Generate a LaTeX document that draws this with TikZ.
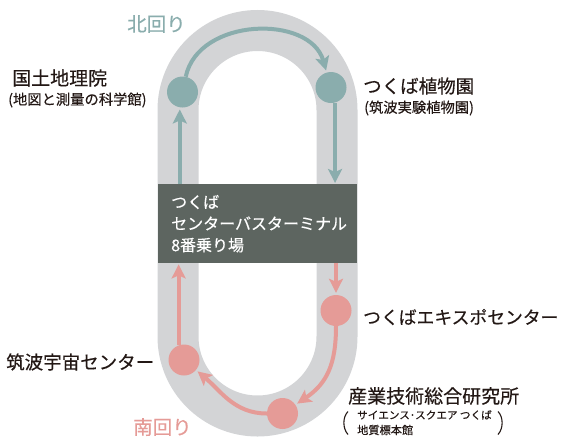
\documentclass[tikz,border=0pt]{standalone}
\usepackage{fontspec}
\setmainfont{Noto Sans CJK JP}[FakeBold=0.35]
\usetikzlibrary{arrows.meta,calc}
\definecolor{trackgrey}{HTML}{D3D4D6}
\definecolor{tealline}{HTML}{8AADAD}
\definecolor{pinkline}{HTML}{E59B97}
\definecolor{boxgrey}{HTML}{5D6560}
\definecolor{inkcol}{HTML}{231815}
\begin{document}
\begin{tikzpicture}[x=1pt,y=1pt,
  stopdot/.style={circle, minimum size=31pt, inner sep=0pt},
  tealstop/.style={stopdot, fill=tealline},
  pinkstop/.style={stopdot, fill=pinkline},
  route/.style={line width=4pt, -{Stealth[length=14pt,width=14pt,inset=3pt]}, shorten >=2pt},
  northroute/.style={route, draw=tealline},
  southroute/.style={route, draw=pinkline},
  stoplabel/.style={anchor=west, inner sep=0pt, text=inkcol, font=\fontsize{#1}{#1}\selectfont},
  dirlabel/.style={anchor=west, inner sep=0pt, font=\fontsize{19.5}{19.5}\selectfont},
  bracket/.style={draw=inkcol, line width=1.1pt},
]
\useasboundingbox (0,0) rectangle (565,-437);
% track
\draw[trackgrey, line width=41pt] (178,-110) arc[start angle=180, end angle=0, radius=79.5]
  -- (337,-336.5) arc[start angle=0, end angle=-180, radius=79.5] -- cycle;
% terminal
\node[fill=boxgrey, anchor=north west, minimum height=79pt, text width=173pt,
  inner xsep=13pt, inner ysep=0pt, align=left, text=white,
  font=\fontsize{16}{21.5}\selectfont] (terminal) at (158,-184)
  {つくば\\センターバスターミナル\\8番乗り場};
% stops
\node[tealstop] (geo) at (182.5,-92) {};
\node[tealstop] (bot) at (331,-87.5) {};
\node[pinkstop] (expo) at (336,-310.5) {};
\node[pinkstop] (aist) at (282.5,-413.5) {};
\node[pinkstop] (space) at (184,-360) {};
% north route
\draw[northroute] (geo.260 |- terminal.north) -- (geo.260);
\draw[northroute] (geo) to[out=78, in=106, looseness=1.1] (bot);
\draw[northroute, shorten >=1pt] (bot.285) -- (bot.285 |- terminal.north);
% south route
\draw[southroute] (expo.north |- terminal.south) -- (expo.north);
\draw[southroute] (expo) to[out=-90, in=34, looseness=1.1] (aist);
\draw[southroute] (aist) to[out=180, in=-40, looseness=1] (space);
\draw[southroute, shorten >=1pt] (space.110) -- (space.110 |- terminal.south);
% direction labels
\node[dirlabel, text=tealline] (northname) at (127,-24) {北回り};
\node[dirlabel, text=pinkline] (southname) at (133,-427) {南回り};
% stop labels
\node[stoplabel=19] (geoname) at (12,-78) {国土地理院};
\node[stoplabel=14.3] (geosub) at (8,-100) {(地図と測量の科学館)};
\node[stoplabel=18.5] (botname) at (363,-86) {つくば植物園};
\node[stoplabel=14.3] (botsub) at (364,-108) {(筑波実験植物園)};
\node[stoplabel=17.8] (exponame) at (363,-317) {つくばエキスポセンター};
\node[stoplabel=18.5] (spacename) at (6,-362) {筑波宇宙センター};
\node[stoplabel=19] (aistname) at (348,-396) {産業技術総合研究所};
\node[stoplabel=10.6] (aistsub1) at (357,-415) {サイエンス･スクエア つくば};
\node[stoplabel=11.2] (aistsub2) at (357,-430) {地質標本館};
% brackets round the sub-caption
\draw[bracket] (348,-411.5) .. controls (342.5,-417) and (342.5,-428.5) .. (348,-434.5);
\draw[bracket] (498,-411.5) .. controls (503.5,-417) and (503.5,-428.5) .. (498,-434.5);
\end{tikzpicture}
\end{document}
